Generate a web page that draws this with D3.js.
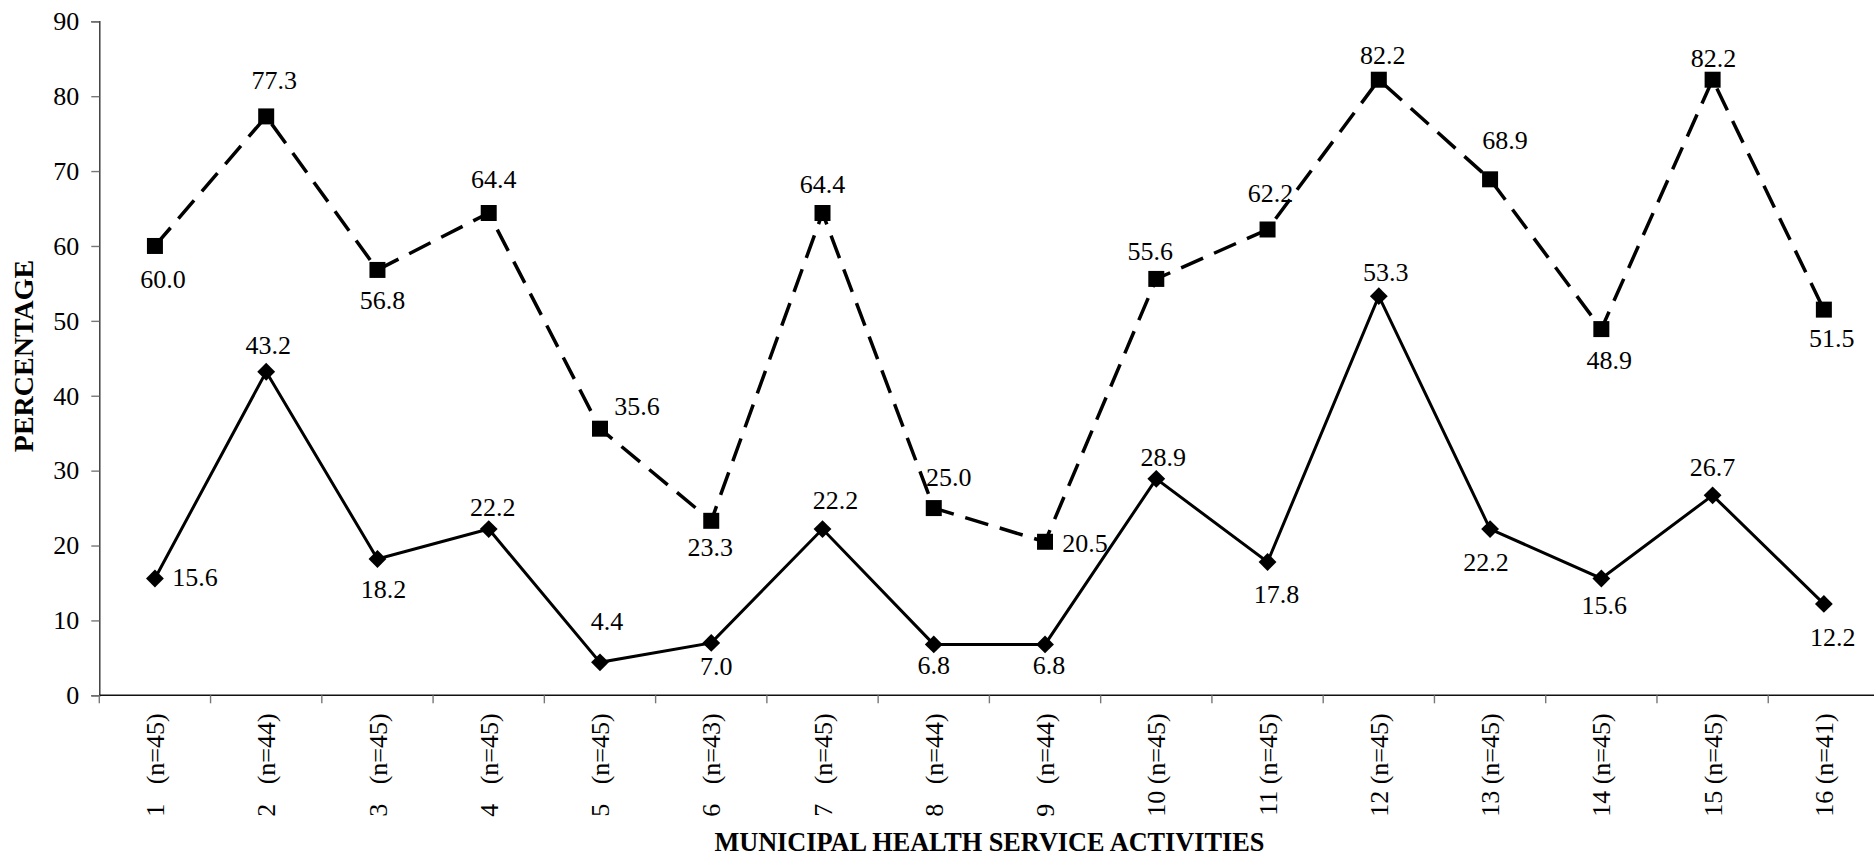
<!DOCTYPE html>
<html>
<head>
<meta charset="utf-8">
<script src="https://cdn.jsdelivr.net/npm/d3@7"></script>
<style>
  html, body { margin: 0; padding: 0; background: #fff; }
  svg { display: block; }
  text { font-family: "Liberation Serif", "Times New Roman", serif; fill: #000; }
</style>
</head>
<body>
<svg id="chart" width="1874" height="858"></svg>
<script>
// Municipal health service activities (1..16) with sample sizes
const categories = ["1", "2", "3", "4", "5", "6", "7", "8", "9", "10", "11", "12", "13", "14", "15", "16"];
const sampleSizes = [45, 44, 45, 45, 45, 43, 45, 44, 44, 45, 45, 45, 45, 45, 45, 41];

// Dashed series (square markers)
const upperSeries = [60.0, 77.3, 56.8, 64.4, 35.6, 23.3, 64.4, 25.0, 20.5, 55.6, 62.2, 82.2, 68.9, 48.9, 82.2, 51.5];
// Solid series (diamond markers)
const lowerSeries = [15.6, 43.2, 18.2, 22.2, 4.4, 7.0, 22.2, 6.8, 6.8, 28.9, 17.8, 53.3, 22.2, 15.6, 26.7, 12.2];

const yTicks = [0, 10, 20, 30, 40, 50, 60, 70, 80, 90];

// Value-label nudges relative to each marker: [dx, dy to baseline]
const upperLabelNudge = [[8, 42], [8, -27], [5, 39], [5, -25], [37, -14], [-1, 35], [0, -20], [15, -22],
                         [40, 10], [-6, -19], [3, -27], [4, -16], [15, -30], [8, 40], [1, -13], [8, 37]];
const lowerLabelNudge = [[40, 8], [2, -18], [6, 39], [4, -13], [7, -32], [5, 32], [13, -20], [0, 30],
                         [4, 30], [7, -13], [9, 41], [7, -15], [-4, 42], [3, 36], [0, -19], [9, 42]];

const svg = d3.select("#chart");

const plotLeft = 99.3, plotRight = 1879.5, plotTop = 21.3, plotBottom = 695.3;

const x = d3.scaleBand().domain(categories).range([plotLeft, plotRight]).paddingInner(0).paddingOuter(0);
const y = d3.scaleLinear().domain([0, 90]).range([plotBottom, plotTop]);
const cx = c => x(c) + x.bandwidth() / 2;

// Y axis
const yAxis = svg.append("g")
  .attr("transform", `translate(${plotLeft},0)`)
  .call(d3.axisLeft(y).tickValues(yTicks).tickSize(8).tickPadding(12).tickFormat(d3.format("d")));
yAxis.select(".domain").attr("stroke", "#333").attr("stroke-width", 1.4);
yAxis.selectAll(".tick line").attr("stroke", "#777").attr("stroke-width", 1.4);
yAxis.selectAll(".tick text")
  .style("font-family", "'Liberation Serif', serif")
  .style("font-size", "26px")
  .attr("fill", "#000");

// X axis: baseline with ticks on category boundaries
const xAxis = svg.append("g");
xAxis.append("line")
  .attr("x1", plotLeft).attr("x2", plotRight)
  .attr("y1", y(0)).attr("y2", y(0))
  .attr("stroke", "#111").attr("stroke-width", 1.6);
const boundaries = categories.map(c => x(c)).concat([x(categories[categories.length - 1]) + x.bandwidth()]);
xAxis.selectAll("line.tick")
  .data(boundaries)
  .join("line")
  .attr("class", "tick")
  .attr("x1", d => d).attr("x2", d => d)
  .attr("y1", y(0)).attr("y2", y(0) + 8)
  .attr("stroke", "#777").attr("stroke-width", 1.4);

// Rotated category labels
xAxis.selectAll("text.cat")
  .data(categories)
  .join("text")
  .attr("class", "cat")
  .attr("transform", c => `translate(${cx(c)},${y(0) + 18}) rotate(-90)`)
  .attr("text-anchor", "end")
  .attr("dy", "0.35em")
  .style("font-size", "26px")
  .style("white-space", "pre")
  .text((c, i) => c + (c.length === 1 ? "   " : " ") + "(n=" + sampleSizes[i] + ")");

// Axis titles
svg.append("text")
  .attr("transform", `translate(33,356) rotate(-90)`)
  .attr("text-anchor", "middle")
  .style("font-size", "28px")
  .style("font-weight", "bold")
  .text("PERCENTAGE");

svg.append("text")
  .attr("x", (plotLeft + plotRight) / 2)
  .attr("y", 851)
  .attr("text-anchor", "middle")
  .attr("textLength", 550)
  .attr("lengthAdjust", "spacingAndGlyphs")
  .style("font-size", "27px")
  .style("font-weight", "bold")
  .text("MUNICIPAL HEALTH SERVICE ACTIVITIES");

// Lines
const line = d3.line().x((d, i) => cx(categories[i])).y(d => y(d));

svg.append("path")
  .datum(upperSeries)
  .attr("d", line)
  .attr("fill", "none")
  .attr("stroke", "#000")
  .attr("stroke-width", 3.5)
  .attr("stroke-dasharray", "24,12");

svg.append("path")
  .datum(lowerSeries)
  .attr("d", line)
  .attr("fill", "none")
  .attr("stroke", "#000")
  .attr("stroke-width", 3);

// Markers
const square = d3.symbol(d3.symbolSquare, 16 * 16);
svg.selectAll("path.sq")
  .data(upperSeries)
  .join("path")
  .attr("class", "sq")
  .attr("d", square)
  .attr("transform", (d, i) => `translate(${cx(categories[i])},${y(d)})`)
  .attr("fill", "#000");

const diamond = d3.symbol(d3.symbolSquare, 12.6 * 12.6);
svg.selectAll("path.dm")
  .data(lowerSeries)
  .join("path")
  .attr("class", "dm")
  .attr("d", diamond)
  .attr("transform", (d, i) => `translate(${cx(categories[i])},${y(d)}) rotate(45)`)
  .attr("fill", "#000");

// Value labels
const fmt = d3.format(".1f");
function labels(series, nudge, cls) {
  svg.selectAll("text." + cls)
    .data(series)
    .join("text")
    .attr("class", cls)
    .attr("x", (d, i) => cx(categories[i]) + nudge[i][0])
    .attr("y", (d, i) => y(d) + nudge[i][1])
    .attr("text-anchor", "middle")
    .style("font-size", "26px")
    .text(d => fmt(d));
}
labels(upperSeries, upperLabelNudge, "lab-up");
labels(lowerSeries, lowerLabelNudge, "lab-low");
</script>
</body>
</html>
